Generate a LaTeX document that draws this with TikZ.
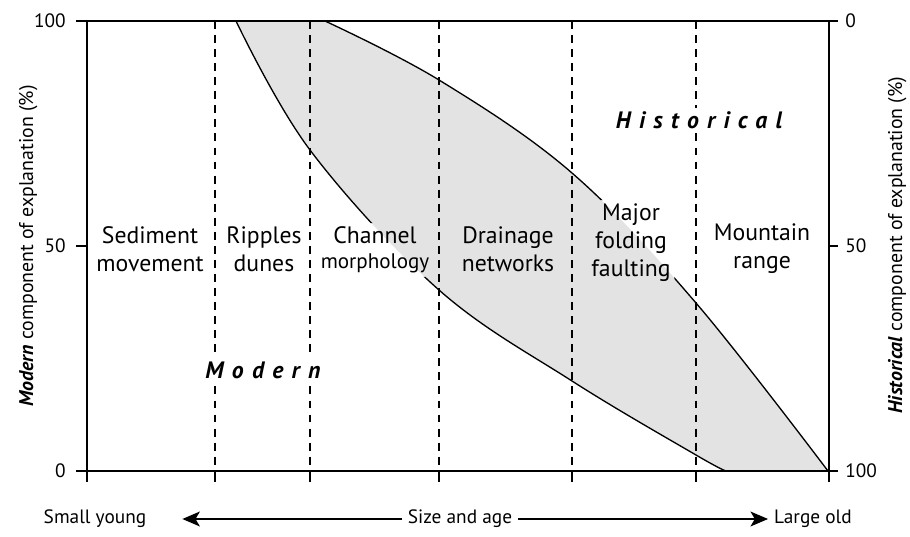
\documentclass[tikz,border=0pt]{standalone}
\usepackage{fontspec}
\setmainfont{PT Sans}
\usetikzlibrary{arrows.meta}

\newcommand{\spacedlabel}[1]{{\bfseries\itshape\addfontfeature{LetterSpace=35}#1}}

\tikzset{
  axisline/.style={line width=0.85pt},
  divider/.style={line width=0.85pt, dash pattern=on 4.5pt off 3.5pt},
  bandline/.style={line width=0.75pt},
  region/.style={align=center, font=\fontsize{13.5}{16}\selectfont, inner sep=2pt},
  ticklabel/.style={font=\fontsize{11}{12}\selectfont, inner sep=0pt},
  axistitle/.style={rotate=90, anchor=base, font=\fontsize{11.3}{13}\selectfont},
  sizelabel/.style={font=\fontsize{11}{13}\selectfont},
  sizearrow/.style={line width=0.75pt, -{Stealth[length=10pt, width=8.5pt, inset=2.5pt]}}
}

\begin{document}
\begin{tikzpicture}[x=0.02cm,y=-0.02cm]
  \useasboundingbox (0,0) rectangle (910,537);

  % shaded band between the two curves
  \fill[black!11] plot[smooth,tension=0.6] coordinates {(325,21) (439,80) (572,173) (696,303) (828,471)}
    -- plot[smooth,tension=0.6] coordinates {(726,471) (696,455) (572,381) (439,290) (310,150) (236,21)} -- cycle;

  % regions
  \node[region] (sediment) at (150,249) {Sediment\\movement};
  \node[region] (ripples) at (264,249) {Ripples\\dunes};
  \node[region] (channel) at (375,250) {Channel\\[-2pt]{\fontsize{12}{16}\selectfont morphology}};
  \node[region] (drainage) at (508,249) {Drainage\\networks};
  \node[region] (folding) at (631,243) {Major\\folding\\faulting};
  \node[region] (mountain) at (762,249) {Mountain\\range};

  % curves, broken where the labels sit
  \begin{scope}[even odd rule]
    \clip (0,0) rectangle (910,537)
      (channel.south west) rectangle (channel.north east)
      (folding.south west) rectangle (folding.north east);
    \draw[bandline] plot[smooth,tension=0.6] coordinates {(325,21) (439,80) (572,173) (696,303) (828,471)};
    \draw[bandline] plot[smooth,tension=0.6] coordinates {(236,21) (310,150) (439,290) (572,381) (696,455) (726,471)};
  \end{scope}

  % dividers
  \foreach \x in {215,310,439,572,696}
    \draw[divider] (\x,21) -- (\x,471);

  % frame and ticks
  \draw[axisline] (76,21) -- (838,21);
  \draw[axisline] (76,471) -- (838,471);
  \draw[axisline] (87,21) -- (87,471);
  \draw[axisline] (829,21) -- (829,471);
  \foreach \x in {87,215,310,439,572,696,829}
    \draw[axisline] (\x,471) -- (\x,482);
  \foreach \y in {21,246,471} {
    \draw[axisline] (76,\y) -- (87,\y);
    \draw[axisline] (829,\y) -- (838,\y);
  }

  % tick labels
  \node[ticklabel, anchor=east] (left100) at (66,21) {100};
  \node[ticklabel, anchor=east] (left50) at (66,246) {50};
  \node[ticklabel, anchor=east] (left0) at (66,471) {0};
  \node[ticklabel, anchor=west] (right0) at (845,21) {0};
  \node[ticklabel, anchor=west] (right50) at (845,246) {50};
  \node[ticklabel, anchor=west] (right100) at (845,471) {100};

  % axis titles
  \node[axistitle] (modtitle) at (33,246) {\textbf{\textit{Modern}} component of explanation (\%)};
  \node[axistitle] (histitle) at (902,245) {\textbf{\textit{Historical}} component of explanation (\%)};

  % the two components
  \node[region, fill=white] (historical) at (699,120) {\spacedlabel{Historical}};
  \node[region, fill=white] (modern) at (263,370) {\spacedlabel{Modern}};

  % size and age axis
  \node[sizelabel] (size) at (460,519) {Size and age};
  \node[sizelabel] (small) at (95,519) {Small young};
  \node[sizelabel] (large) at (813,519) {Large old};
  \draw[sizearrow, shorten >=17pt] (size) -- (small);
  \draw[sizearrow] (size) -- (large);
\end{tikzpicture}
\end{document}
